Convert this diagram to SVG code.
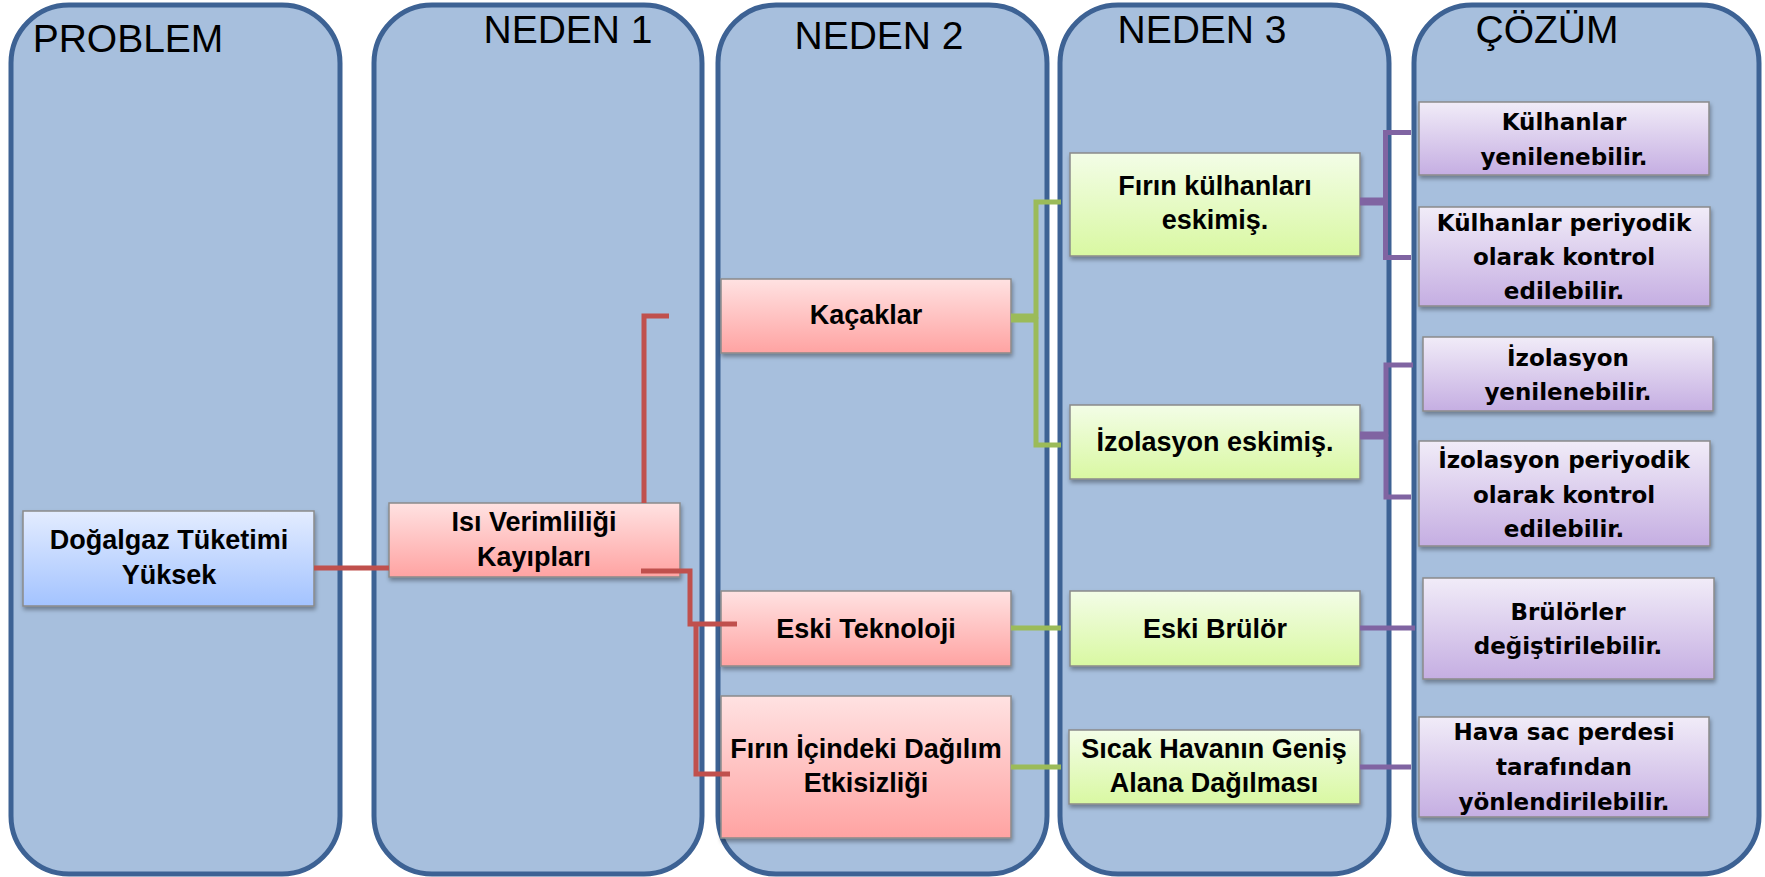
<svg xmlns="http://www.w3.org/2000/svg" width="1765" height="877" viewBox="0 0 1765 877">
<defs>
<linearGradient id="gBlue" x1="0" y1="0" x2="0" y2="1"><stop offset="0" stop-color="#E3ECFF"/><stop offset="1" stop-color="#A3C3FF"/></linearGradient>
<linearGradient id="gRed" x1="0" y1="0" x2="0" y2="1"><stop offset="0" stop-color="#FFE2E2"/><stop offset="1" stop-color="#FFA3A2"/></linearGradient>
<linearGradient id="gGreen" x1="0" y1="0" x2="0" y2="1"><stop offset="0" stop-color="#F3FDE7"/><stop offset="1" stop-color="#D9F8A2"/></linearGradient>
<linearGradient id="gPurple" x1="0" y1="0" x2="0" y2="1"><stop offset="0" stop-color="#F1ECF8"/><stop offset="1" stop-color="#C5AEE2"/></linearGradient>
<filter id="sh" x="-5%" y="-10%" width="115%" height="130%"><feDropShadow dx="1" dy="3" stdDeviation="2" flood-color="#000" flood-opacity="0.35"/></filter>
</defs>
<style>
.col{fill:#A7BFDD;stroke:#3D6294;stroke-width:5}
.hd{font-family:"Liberation Sans",Arial,sans-serif;font-size:39px;fill:#000;text-anchor:middle}
.box{stroke:#8A8A8A;stroke-width:1.5;filter:url(#sh)}
.blue{fill:url(#gBlue)}
.red{fill:url(#gRed)}
.green{fill:url(#gGreen)}
.purple{fill:url(#gPurple)}
.t{font-family:"Liberation Sans",Arial,sans-serif;font-weight:bold;font-size:27px;fill:#000;text-anchor:middle}
.s{font-family:"DejaVu Sans",Verdana,sans-serif;font-weight:bold;font-size:23px;fill:#000;text-anchor:middle}
.cr{fill:none;stroke:#C0504D;stroke-width:5}
.cg{fill:none;stroke:#9BBB59;stroke-width:5}
.cp{fill:none;stroke:#8064A2;stroke-width:5}
</style>
<g id="columns">
<g id="col-problem"><rect class="col" x="11" y="5" width="329" height="869" rx="58" ry="58"/><text class="hd" x="128" y="52">PROBLEM</text></g>
<g id="col-neden1"><rect class="col" x="374" y="5" width="328" height="869" rx="58" ry="58"/><text class="hd" x="568" y="43">NEDEN 1</text></g>
<g id="col-neden2"><rect class="col" x="718" y="5" width="329" height="869" rx="58" ry="58"/><text class="hd" x="879" y="49">NEDEN 2</text></g>
<g id="col-neden3"><rect class="col" x="1060" y="5" width="329" height="869" rx="58" ry="58"/><text class="hd" x="1202" y="43">NEDEN 3</text></g>
<g id="col-cozum"><rect class="col" x="1414" y="5" width="345" height="869" rx="58" ry="58"/><text class="hd" x="1547" y="43">ÇÖZÜM</text></g>
</g>
<g id="n-dogalgaz"><rect class="box blue" x="23" y="511" width="291" height="95"/><text class="t" x="169" y="549">Doğalgaz Tüketimi</text><text class="t" x="169" y="584">Yüksek</text></g>
<g id="n-isi"><rect class="box red" x="389" y="503" width="291" height="74"/><text class="t" x="534" y="531">Isı Verimliliği</text><text class="t" x="534" y="566">Kayıpları</text></g>
<g id="n-kacaklar"><rect class="box red" x="721" y="279" width="290" height="74"/><text class="t" x="866" y="324">Kaçaklar</text></g>
<g id="n-eskitek"><rect class="box red" x="721" y="591" width="290" height="75"/><text class="t" x="866" y="638">Eski Teknoloji</text></g>
<g id="n-firin-ic"><rect class="box red" x="721" y="696" width="290" height="142"/><text class="t" x="866" y="758">Fırın İçindeki Dağılım</text><text class="t" x="866" y="792">Etkisizliği</text></g>
<g id="n-kulhan"><rect class="box green" x="1070" y="153" width="290" height="103"/><text class="t" x="1215" y="195">Fırın külhanları</text><text class="t" x="1215" y="229">eskimiş.</text></g>
<g id="n-izolasyon"><rect class="box green" x="1070" y="405" width="290" height="74"/><text class="t" x="1215" y="451">İzolasyon eskimiş.</text></g>
<g id="n-brulor"><rect class="box green" x="1070" y="591" width="290" height="75"/><text class="t" x="1215" y="638">Eski Brülör</text></g>
<g id="n-sicak"><rect class="box green" x="1069" y="730" width="291" height="74"/><text class="t" x="1214" y="758">Sıcak Havanın Geniş</text><text class="t" x="1214" y="792">Alana Dağılması</text></g>
<g id="s-kulhan-yeni"><rect class="box purple" x="1419" y="102" width="290" height="73"/><text class="s" x="1564" y="130">Külhanlar</text><text class="s" x="1564" y="165">yenilenebilir.</text></g>
<g id="s-kulhan-kontrol"><rect class="box purple" x="1419" y="207" width="291" height="99"/><text class="s" x="1564" y="231">Külhanlar periyodik</text><text class="s" x="1564" y="265">olarak kontrol</text><text class="s" x="1564" y="299">edilebilir.</text></g>
<g id="s-izo-yeni"><rect class="box purple" x="1423" y="337" width="290" height="74"/><text class="s" x="1568" y="366">İzolasyon</text><text class="s" x="1568" y="400">yenilenebilir.</text></g>
<g id="s-izo-kontrol"><rect class="box purple" x="1419" y="441" width="291" height="105"/><text class="s" x="1564" y="468">İzolasyon periyodik</text><text class="s" x="1564" y="503">olarak kontrol</text><text class="s" x="1564" y="537">edilebilir.</text></g>
<g id="s-brulor"><rect class="box purple" x="1423" y="578" width="291" height="101"/><text class="s" x="1568" y="620">Brülörler</text><text class="s" x="1568" y="654">değiştirilebilir.</text></g>
<g id="s-hava"><rect class="box purple" x="1419" y="717" width="290" height="100"/><text class="s" x="1564" y="740">Hava sac perdesi</text><text class="s" x="1564" y="775">tarafından</text><text class="s" x="1564" y="810">yönlendirilebilir.</text></g>
<g id="connectors">
<path class="cr" d="M314,568 H389"/>
<path class="cr" d="M644,503 V316 H669"/>
<path class="cr" d="M641,571 H690 V624 H737"/>
<path class="cr" d="M696,624 V774 H730"/>
<path class="cg" d="M1011,316 H1036 V202 H1061"/>
<path class="cg" d="M1011,320 H1036 V445 H1061"/>
<path class="cg" d="M1011,628 H1061"/>
<path class="cg" d="M1011,767 H1061"/>
<path class="cp" d="M1360,200 H1385.5 V132.5 H1411"/>
<path class="cp" d="M1360,203 H1385.5 V257.5 H1411"/>
<path class="cp" d="M1360,434 H1386 V365 H1413"/>
<path class="cp" d="M1360,437 H1386 V497 H1411"/>
<path class="cp" d="M1360,628 H1415"/>
<path class="cp" d="M1360,767 H1411"/>
</g>
</svg>
